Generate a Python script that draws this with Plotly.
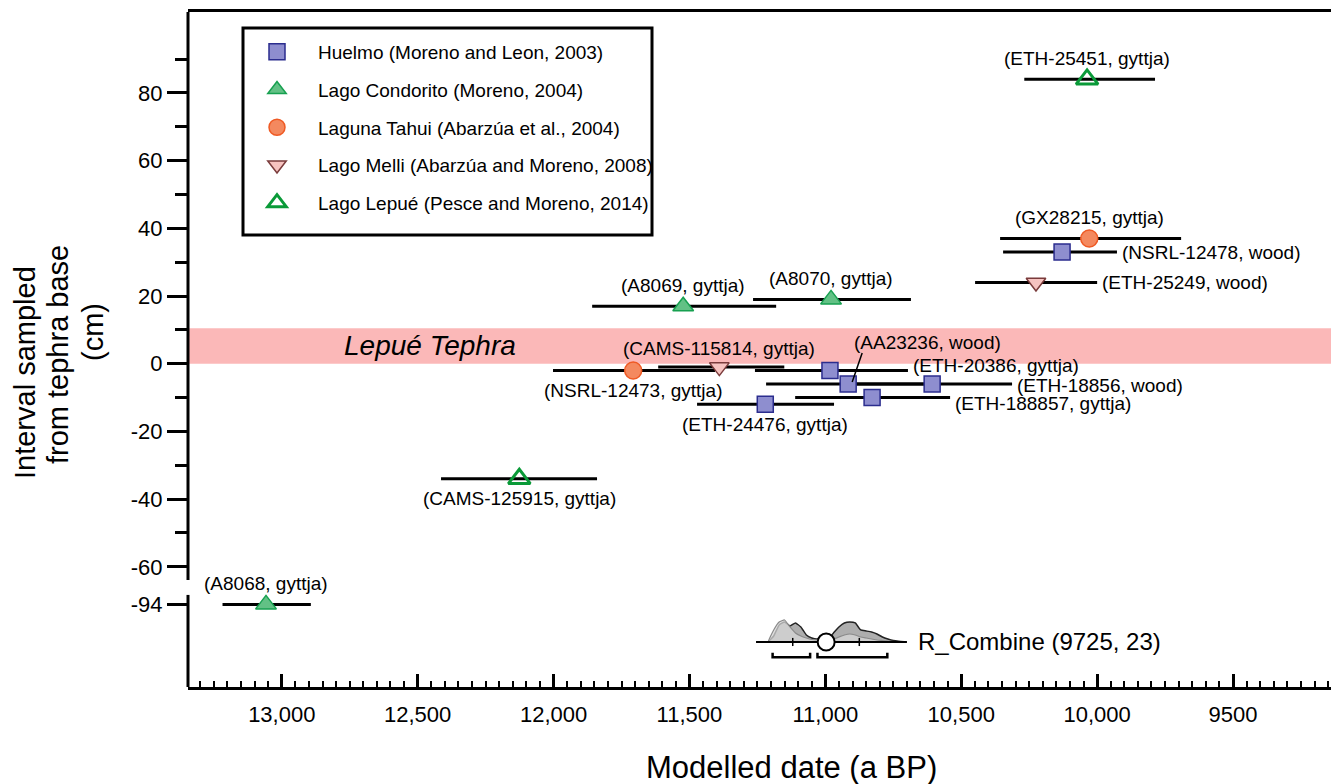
import plotly.graph_objects as go

# ---------------------------------------------------------------------------
# Radiocarbon dates bracketing the Lepué tephra (modelled ages, a BP)
# ---------------------------------------------------------------------------
sample_id = ["NSRL-12478", "ETH-20386", "AA23236", "ETH-18856", "ETH-188857", "ETH-24476",
             "A8069", "A8070", "A8068",
             "GX28215", "NSRL-12473",
             "ETH-25249", "CAMS-115814",
             "ETH-25451", "CAMS-125915"]
material = ["wood", "gyttja", "wood", "wood", "gyttja", "gyttja",
            "gyttja", "gyttja", "gyttja",
            "gyttja", "gyttja",
            "wood", "gyttja",
            "gyttja", "gyttja"]
site = ["Huelmo"] * 6 + ["Lago Condorito"] * 3 + ["Laguna Tahui"] * 2 + \
       ["Lago Melli"] * 2 + ["Lago Lepué"] * 2
modelled_age = [10129, 10983, 10916, 10607, 10828, 11221,
                11523, 10979, 13058,
                10029, 11707,
                10225, 11390,
                10037, 12126]
age_older = [10346, 11259, 11218, 10902, 11111, 11472,
             11858, 11266, 13218,
             10357, 12002,
             10449, 11615,
             10268, 12414]
age_younger = [9927, 10696, 10615, 10313, 10541, 10968,
               11181, 10685, 12893,
               9691, 11406,
               10000, 11151,
               9787, 11840]
depth_cm = [33, -2, -6, -6, -10, -12,
            17, 19, -94,
            37, -2,
            24, -1,
            84, -34]

site_names = ["Huelmo", "Lago Condorito", "Laguna Tahui", "Lago Melli", "Lago Lepué"]
site_refs = ["Huelmo (Moreno and Leon, 2003)",
             "Lago Condorito (Moreno, 2004)",
             "Laguna Tahui (Abarzúa et al., 2004)",
             "Lago Melli (Abarzúa and Moreno, 2008)",
             "Lago Lepué (Pesce and Moreno, 2014)"]

# Lepué tephra layer (cm above its base)
tephra_base_cm = 0
tephra_top_cm = 10.5

# R_Combine: combined 14C age and its calibrated distributions
combine_c14 = (9725, 23)
combine_years = [11210, 11190, 11170, 11150, 11130, 11110, 11090, 11070, 11050, 11030,
                 11010, 10990, 10970, 10950, 10930, 10910, 10890, 10870, 10850, 10830,
                 10810, 10790, 10770, 10750, 10730, 10710, 10700]
combine_likelihood = [0, 12, 20, 22, 15, 9, 6, 4, 2.5, 2,
                      2, 2, 3, 5, 7, 8, 7, 5, 4, 3,
                      2, 1.5, 1, 0.5, 0.2, 0, 0]
combine_posterior = [0, 6, 17, 20, 16, 19, 15, 7, 4, 3,
                     5, 3, 9, 15, 19, 20, 19, 12, 11, 10,
                     8, 5, 3, 1.5, 0.7, 0.2, 0]
combine_mean = 10997
combine_sigma = [11120, 10875]
combine_range_start = 11255
combine_range_end = 10700
combine_hpd = [[11194, 11056], [11029, 10772]]

x_ticks = [13000, 12500, 12000, 11500, 11000, 10500, 10000, 9500]
x_tick_text = ["13,000", "12,500", "12,000", "11,500", "11,000", "10,500", "10,000", "9500"]
y_ticks = [80, 60, 40, 20, 0, -20, -40, -60]
y_minor_ticks = [90, 70, 50, 30, 10, -10, -30, -50]
lower_tick = -94

# ---------------------------------------------------------------------------
# Axis-break mapping: the lower panel holds -94 cm and the combined age
# ---------------------------------------------------------------------------
LOWER_LEVEL_POS = -71.1      # plotted position of the -94 cm level
COMBINE_ROW_POS = -82.2      # plotted position of the R_Combine row
Y_RANGE = [-95.5, 103.9]
X_RANGE = [13345, 9139.5]
BREAK_TOP, BREAK_BOTTOM = -63.9, -68.3

# figure geometry in pixels
W, H = 1331, 784
ML, MT, MB = 188, 12, 97
PW, PH = W - ML, H - MT - MB


def px_x(px):
    return (px - ML) / PW


def px_y(py):
    return (H - MB - py) / PH


def plot_y(d):
    return LOWER_LEVEL_POS if d <= -90 else d


FONT = "Arial, Liberation Sans, sans-serif"
styles = {
    "Huelmo": dict(symbol="square", size=16, color="#8e8ecf",
                   line=dict(color="#2b2d8e", width=1.5)),
    "Lago Condorito": dict(symbol="triangle-up", size=18, color="#62c185",
                           line=dict(color="#17a050", width=1.5)),
    "Laguna Tahui": dict(symbol="circle", size=17, color="#f4895f",
                         line=dict(color="#ef5a24", width=1.5)),
    "Lago Melli": dict(symbol="triangle-down", size=17, color="#f6c3c0",
                       line=dict(color="#7a3b3b", width=1.5)),
    "Lago Lepué": dict(symbol="triangle-up-open", size=19, color="#0a9a38",
                       line=dict(color="#0a9a38", width=3)),
}

fig = go.Figure()

for name, ref in zip(site_names, site_refs):
    idx = [i for i, s in enumerate(site) if s == name]
    xs = [modelled_age[i] for i in idx]
    ys = [plot_y(depth_cm[i]) for i in idx]
    plus = [age_older[i] - modelled_age[i] for i in idx]
    minus = [modelled_age[i] - age_younger[i] for i in idx]
    fig.add_trace(go.Scatter(
        x=xs, y=ys, mode="markers", name=ref, legendgroup=name,
        marker=styles[name],
        error_x=dict(type="data", symmetric=False, array=plus, arrayminus=minus,
                     thickness=3, width=0, color="black"),
        hoverinfo="skip",
    ))

# label placement around each date: (side, extra vertical shift in px)
placement = {
    "ETH-25451": ("above", 0), "GX28215": ("above", 0), "NSRL-12478": ("right", 0),
    "ETH-25249": ("right", 0), "A8069": ("above", 0), "A8070": ("above", 0),
    "CAMS-115814": ("above", -2), "AA23236": ("leader", 0), "NSRL-12473": ("below", 0),
    "ETH-20386": ("right", 5), "ETH-18856": ("right", -1), "ETH-188857": ("right", -6),
    "ETH-24476": ("below", 0), "CAMS-125915": ("below", 0), "A8068": ("above", 0),
}
annotations = []
shapes = []

# legend frame
shapes.append(dict(type="rect", xref="paper", yref="paper",
                   x0=px_x(243), x1=px_x(652), y0=px_y(235), y1=px_y(28),
                   fillcolor="white", line=dict(color="black", width=3), layer="below"))

for i, sid in enumerate(sample_id):
    text = f"({sid}, {material[i]})"
    y = plot_y(depth_cm[i])
    where, dy = placement[sid]
    base = dict(text=text, showarrow=False, font=dict(family=FONT, size=19, color="black"),
                xref="x", yref="y")
    if where == "above":
        annotations.append(dict(base, x=modelled_age[i], y=y, yshift=21 + dy,
                                xanchor="center", yanchor="middle"))
    elif where == "below":
        annotations.append(dict(base, x=modelled_age[i], y=y, yshift=-20 + dy,
                                xanchor="center", yanchor="middle"))
    elif where == "right":
        annotations.append(dict(base, x=age_younger[i], y=y, xshift=3, yshift=dy,
                                xanchor="left", yanchor="middle"))
    else:
        annotations.append(dict(base, x=modelled_age[i], y=y, xshift=79, yshift=42,
                                xanchor="center", yanchor="middle"))
        shapes.append(dict(type="line", xref="x", yref="y",
                           xsizemode="pixel", ysizemode="pixel",
                           xanchor=modelled_age[i], yanchor=y,
                           x0=4, y0=2, x1=14, y1=31,
                           line=dict(color="black", width=1.5)))

# ---------------------------------------------------------------------------
# R_Combine distributions
# ---------------------------------------------------------------------------
DIST_HEIGHT = 6.5
peak = max(max(combine_likelihood), max(combine_posterior))
post_y = [COMBINE_ROW_POS + DIST_HEIGHT * v / peak for v in combine_posterior]
like_y = [COMBINE_ROW_POS + DIST_HEIGHT * v / peak for v in combine_likelihood]

fig.add_trace(go.Scatter(
    x=combine_years + combine_years[::-1],
    y=post_y + [COMBINE_ROW_POS] * len(combine_years),
    fill="toself", fillcolor="rgba(160,160,160,0.85)", mode="lines",
    line=dict(color="#222222", width=1.5, shape="spline", smoothing=0.4),
    showlegend=False, hoverinfo="skip"))
fig.add_trace(go.Scatter(
    x=combine_years + combine_years[::-1],
    y=like_y + [COMBINE_ROW_POS] * len(combine_years),
    fill="toself", fillcolor="rgba(215,215,215,0.75)", mode="lines",
    line=dict(color="#8a8a8a", width=1.2, shape="spline", smoothing=0.4),
    showlegend=False, hoverinfo="skip"))

# baseline through the distribution
fig.add_trace(go.Scatter(
    x=[combine_range_start, combine_range_end], y=[COMBINE_ROW_POS] * 2,
    mode="lines", line=dict(color="black", width=2),
    showlegend=False, hoverinfo="skip"))

# 1-sigma tick marks
for s in combine_sigma:
    fig.add_trace(go.Scatter(
        x=[s, s], y=[COMBINE_ROW_POS - 1.2, COMBINE_ROW_POS + 1.2],
        mode="lines", line=dict(color="black", width=1.5),
        showlegend=False, hoverinfo="skip"))

# highest-density ranges as brackets
BRACKET_POS = COMBINE_ROW_POS - 4.5
for a, b in combine_hpd:
    fig.add_trace(go.Scatter(
        x=[a, a, b, b],
        y=[BRACKET_POS + 1.3, BRACKET_POS, BRACKET_POS, BRACKET_POS + 1.3],
        mode="lines", line=dict(color="black", width=2.5),
        showlegend=False, hoverinfo="skip"))

fig.add_trace(go.Scatter(
    x=[combine_mean], y=[COMBINE_ROW_POS], mode="markers",
    marker=dict(symbol="circle", size=17, color="white",
                line=dict(color="black", width=2)),
    showlegend=False, hoverinfo="skip"))

annotations.append(dict(
    text=f"R_Combine ({combine_c14[0]}, {combine_c14[1]})", x=combine_range_end,
    y=COMBINE_ROW_POS, xref="x", yref="y", xshift=9, xanchor="left", yanchor="middle",
    showarrow=False, font=dict(family=FONT, size=24, color="black")))

# tephra band and its label
shapes.append(dict(type="rect", xref="paper", yref="y", x0=0, x1=1,
                   y0=tephra_base_cm, y1=tephra_top_cm,
                   fillcolor="#fbb8b8", line=dict(width=0), layer="below"))
annotations.append(dict(
    text="<i>Lepué Tephra</i>", x=12454, y=(tephra_base_cm + tephra_top_cm) / 2,
    xref="x", yref="y", showarrow=False, xanchor="center", yanchor="middle",
    font=dict(family=FONT, size=28, color="black")))

# broken left axis
shapes.append(dict(type="line", xref="paper", yref="y", x0=0, x1=0,
                   y0=Y_RANGE[1], y1=BREAK_TOP, line=dict(color="black", width=3)))
shapes.append(dict(type="line", xref="paper", yref="y", x0=0, x1=0,
                   y0=BREAK_BOTTOM, y1=Y_RANGE[0], line=dict(color="black", width=3)))

# axis titles
annotations.append(dict(text="Modelled date (a BP)", xref="paper", yref="paper",
                        x=px_x(791), y=px_y(767), showarrow=False, xanchor="center",
                        yanchor="middle", font=dict(family=FONT, size=31, color="black")))
for line_text, px, py in [("Interval sampled", 25, 373),
                          ("from tephra base", 58, 355),
                          ("(cm)", 93, 332)]:
    annotations.append(dict(text=line_text, xref="paper", yref="paper",
                            x=px_x(px), y=px_y(py),
                            textangle=-90, showarrow=False, xanchor="center",
                            yanchor="middle", font=dict(family=FONT, size=29, color="black")))

fig.update_layout(
    width=W, height=H,
    margin=dict(l=ML, r=0, t=MT, b=MB),
    plot_bgcolor="white", paper_bgcolor="white",
    font=dict(family=FONT, color="black"),
    shapes=shapes, annotations=annotations,
    legend=dict(x=px_x(236), y=px_y(33), xanchor="left", yanchor="top",
                bgcolor="rgba(0,0,0,0)", borderwidth=0,
                font=dict(family=FONT, size=19, color="black"),
                tracegroupgap=10, itemwidth=72),
    xaxis=dict(range=X_RANGE, tickmode="array", tickvals=x_ticks, ticktext=x_tick_text,
               ticks="inside", ticklen=13, tickwidth=2.5, tickcolor="black",
               ticklabelstandoff=6,
               showline=True, linewidth=3, linecolor="black", mirror=True,
               showgrid=False, zeroline=False,
               tickfont=dict(family=FONT, size=22, color="black"),
               minor=dict(ticks="inside", dtick=50, tick0=0, ticklen=6,
                          tickwidth=1.5, tickcolor="black")),
    yaxis=dict(range=Y_RANGE, tickmode="array",
               tickvals=y_ticks + [LOWER_LEVEL_POS],
               ticktext=[str(v) for v in y_ticks] + [str(lower_tick)],
               ticks="outside", ticklen=20, tickwidth=2.5, tickcolor="black",
               showline=False, showgrid=False, zeroline=False,
               tickfont=dict(family=FONT, size=22, color="black"),
               minor=dict(tickmode="array", tickvals=y_minor_ticks, ticks="outside",
                          ticklen=12, tickwidth=2.5, tickcolor="black")),
)

fig.write_html("out.html")
